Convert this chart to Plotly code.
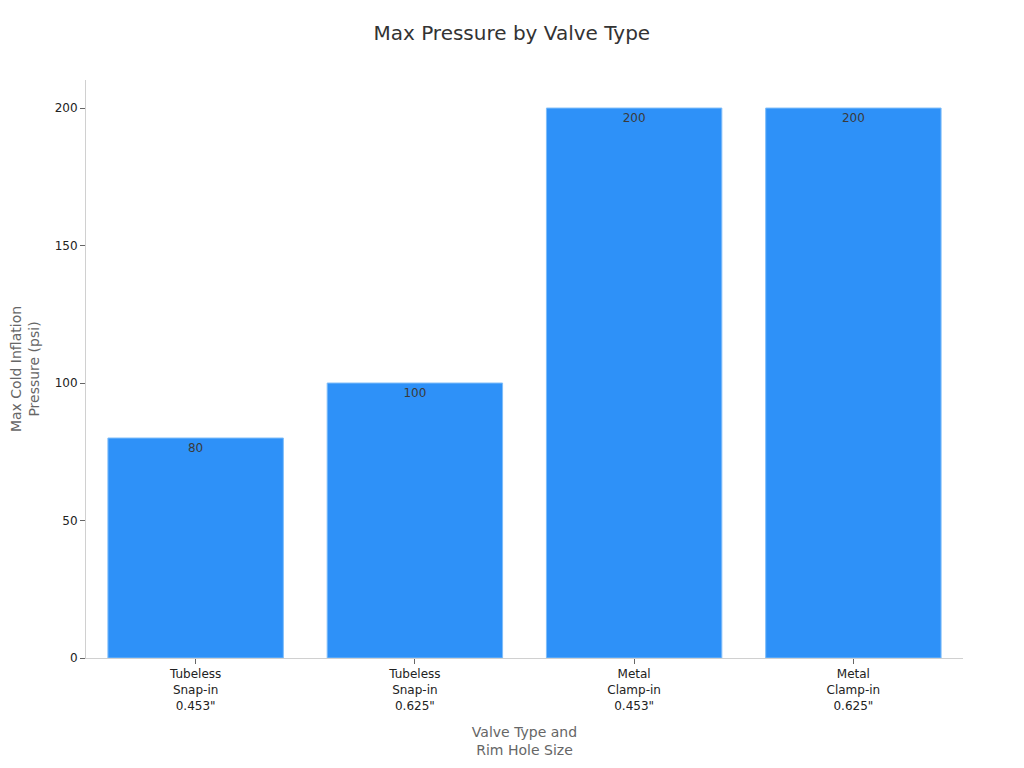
import plotly.graph_objects as go

# valve categories and their rated max cold inflation pressure
valveTypes = ["Tubeless<br>Snap-in<br>0.453\"", "Tubeless<br>Snap-in<br>0.625\"",
              "Metal<br>Clamp-in<br>0.453\"", "Metal<br>Clamp-in<br>0.625\""]
maxPressure = [80, 100, 200, 200]
yTicks = [0, 50, 100, 150, 200]

fig = go.Figure()
fig.add_trace(go.Bar(
    x=valveTypes, y=maxPressure,
    text=maxPressure, textposition="inside", insidetextanchor="end",
    textfont=dict(color="#3a3a3a", size=12),
    marker=dict(color="#2E91F8", line=dict(color="#7FBDF9", width=1)),
))

# margins compensate for the 8px page offset
fig.update_layout(
    width=1024, height=768,
    font=dict(family="DejaVu Sans", color="#333333"),
    title=dict(text="Max Pressure by Valve Type", x=0.492, xanchor="center",
               y=0.9674, yanchor="middle",
               font=dict(size=20, color="#333333")),
    plot_bgcolor="white", paper_bgcolor="white",
    margin=dict(l=78, r=69, t=72, b=118),
    bargap=0.2, showlegend=False,
)
fig.update_xaxes(
    title=dict(text="Valve Type and<br>Rim Hole Size", font=dict(size=14, color="#666666")),
    showline=True, linecolor="#D0D0D0", ticks="outside", ticklen=5, tickcolor="#666666",
    tickfont=dict(size=12, color="#222222"),
)
fig.update_yaxes(
    title=dict(text="Max Cold Inflation<br>Pressure (psi)", font=dict(size=14, color="#666666"),
               standoff=20),
    automargin=False,
    range=[0, 210.2], tickvals=yTicks, showgrid=False, zeroline=False,
    showline=True, linecolor="#D0D0D0", ticks="outside", ticklen=5, tickcolor="#666666",
    tickfont=dict(size=12, color="#222222"),
)

fig.write_html("out.html")
